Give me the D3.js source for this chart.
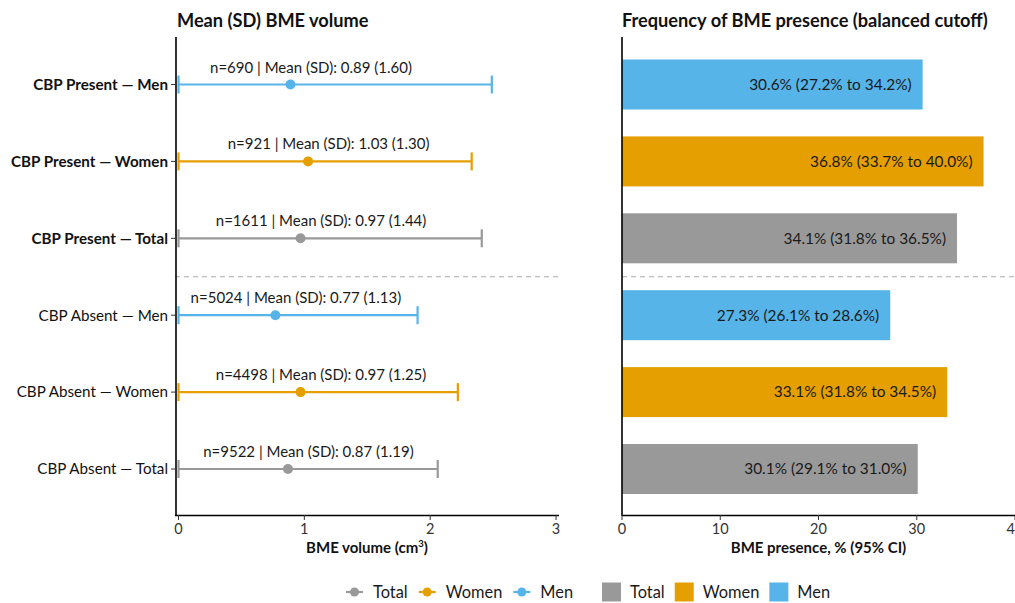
<!DOCTYPE html>
<html>
<head>
<meta charset="utf-8">
<script src="https://cdn.jsdelivr.net/npm/d3@7"></script>
<style>
  html, body { margin: 0; padding: 0; background: #fff; }
  svg { display: block; font-family: Lato, "Open Sans", sans-serif; }
</style>
</head>
<body>
<svg id="chart" width="1015" height="603"></svg>
<script>
// Row labels, top to bottom
const rowLabels = [
  "CBP Present — Men", "CBP Present — Women", "CBP Present — Total",
  "CBP Absent — Men", "CBP Absent — Women", "CBP Absent — Total"
];
const rowGroups = ["Men", "Women", "Total", "Men", "Women", "Total"];
const rowBold = [true, true, true, false, false, false];

// BME volume (cm3)
const sampleN = [690, 921, 1611, 5024, 4498, 9522];
const meanVolume = [0.89, 1.03, 0.97, 0.77, 0.97, 0.87];
const sdVolume = [1.60, 1.30, 1.44, 1.13, 1.25, 1.19];

// BME presence, % with 95% CI
const presencePct = [30.6, 36.8, 34.1, 27.3, 33.1, 30.1];
const presenceLow = [27.2, 33.7, 31.8, 26.1, 31.8, 29.1];
const presenceHigh = [34.2, 40.0, 36.5, 28.6, 34.5, 31.0];

const volumeTicks = [0, 1, 2, 3];
const presenceTicks = [0, 10, 20, 30, 40];

const groupColor = { Total: "#999999", Women: "#E69F00", Men: "#56B4E9" };
const legendGroups = ["Total", "Women", "Men"];

(function draw() {
  const svg = d3.select("#chart");
  const fmt2 = d3.format(".2f");
  const fmt1 = d3.format(".1f");

  const plotTop = 37, plotBottom = 515;
  const y = d3.scalePoint().domain(d3.range(rowLabels.length)).range([84.5, 469]);
  const yc = i => y(i);
  const sepY = (yc(2) + yc(3)) / 2;

  // ---------- Left panel: mean (SD) ----------
  const xL = d3.scaleLinear().domain([0, 3]).range([178.5, 556]);
  const leftX0 = 175, leftX1 = 559;

  svg.append("text").attr("x", 177).attr("y", 27)
    .attr("font-size", 18.2).attr("font-weight", 700).attr("fill", "#111")
    .text("Mean (SD) BME volume");

  svg.append("line").attr("x1", leftX0).attr("x2", leftX1)
    .attr("y1", sepY).attr("y2", sepY)
    .attr("stroke", "#aaaaaa").attr("stroke-width", 1.2).attr("stroke-dasharray", "5,4");

  const rowsL = svg.append("g").selectAll("g").data(d3.range(rowLabels.length)).join("g");
  rowsL.each(function(i) {
    const g = d3.select(this);
    const c = groupColor[rowGroups[i]];
    const lo = Math.max(0, meanVolume[i] - sdVolume[i]);
    const hi = meanVolume[i] + sdVolume[i];
    const cy = yc(i);
    g.append("line").attr("x1", xL(lo)).attr("x2", xL(hi)).attr("y1", cy).attr("y2", cy)
      .attr("stroke", c).attr("stroke-width", 2.2);
    [lo, hi].forEach(v => g.append("line").attr("x1", xL(v)).attr("x2", xL(v))
      .attr("y1", cy - 9).attr("y2", cy + 9).attr("stroke", c).attr("stroke-width", 2.2));
    g.append("circle").attr("cx", xL(meanVolume[i])).attr("cy", cy).attr("r", 5).attr("fill", c);
    g.append("text").attr("x", xL(meanVolume[i]) + 20.5).attr("y", cy - 12)
      .attr("text-anchor", "middle").attr("font-size", 15).attr("fill", "#1a1a1a")
      .text(`n=${sampleN[i]} | Mean (SD): ${fmt2(meanVolume[i])} (${fmt2(sdVolume[i])})`);
  });

  // y axis with row labels
  const yAxisL = svg.append("g");
  yAxisL.append("line").attr("x1", 176).attr("x2", 176).attr("y1", plotTop).attr("y2", plotBottom + 1)
    .attr("stroke", "#000").attr("stroke-width", 1.6);
  d3.range(rowLabels.length).forEach(i => {
    yAxisL.append("line").attr("x1", 171).attr("x2", 176).attr("y1", yc(i)).attr("y2", yc(i))
      .attr("stroke", "#333").attr("stroke-width", 1);
    yAxisL.append("text").attr("x", 168).attr("y", yc(i)).attr("dy", "0.35em")
      .attr("text-anchor", "end").attr("font-size", 15.2)
      .attr("font-weight", rowBold[i] ? 700 : 400).attr("fill", "#111")
      .text(rowLabels[i]);
  });

  // x axis
  const xAxisL = svg.append("g");
  xAxisL.append("line").attr("x1", leftX0).attr("x2", leftX1).attr("y1", plotBottom + 0.5).attr("y2", plotBottom + 0.5)
    .attr("stroke", "#000").attr("stroke-width", 1.6);
  volumeTicks.forEach(t => {
    xAxisL.append("line").attr("x1", xL(t)).attr("x2", xL(t)).attr("y1", plotBottom).attr("y2", plotBottom + 5)
      .attr("stroke", "#333");
    xAxisL.append("text").attr("x", xL(t)).attr("y", plotBottom + 19).attr("text-anchor", "middle")
      .attr("font-size", 14.5).attr("fill", "#333").text(t);
  });
  const xtL = svg.append("text").attr("x", (leftX0 + leftX1) / 2).attr("y", 553)
    .attr("text-anchor", "middle").attr("font-size", 15).attr("font-weight", 700).attr("fill", "#111");
  xtL.append("tspan").text("BME volume (cm");
  xtL.append("tspan").attr("font-size", 9.5).attr("dy", -6).text("3");
  xtL.append("tspan").attr("dy", 6).text(")");

  // ---------- Right panel: presence ----------
  const xR = d3.scaleLinear().domain([0, 40]).range([622, 1015]);
  const rightX0 = 622, rightX1 = 1015;

  svg.append("text").attr("x", 622).attr("y", 27)
    .attr("font-size", 18.2).attr("font-weight", 700).attr("fill", "#111")
    .text("Frequency of BME presence (balanced cutoff)");

  svg.append("line").attr("x1", rightX0).attr("x2", rightX1)
    .attr("y1", sepY).attr("y2", sepY)
    .attr("stroke", "#aaaaaa").attr("stroke-width", 1.2).attr("stroke-dasharray", "5,4");

  const barH = 50;
  const rowsR = svg.append("g").selectAll("g").data(d3.range(rowLabels.length)).join("g");
  rowsR.append("rect")
    .attr("x", xR(0)).attr("y", i => yc(i) - barH / 2)
    .attr("width", i => xR(presencePct[i]) - xR(0)).attr("height", barH)
    .attr("fill", i => groupColor[rowGroups[i]]);
  rowsR.append("text")
    .attr("x", i => xR(presencePct[i]) - 11).attr("y", i => yc(i)).attr("dy", "0.35em")
    .attr("text-anchor", "end").attr("font-size", 15.4).attr("fill", "#1a1a1a")
    .text(i => `${fmt1(presencePct[i])}% (${fmt1(presenceLow[i])}% to ${fmt1(presenceHigh[i])}%)`);

  const axR = svg.append("g");
  axR.append("line").attr("x1", 622).attr("x2", 622).attr("y1", plotTop).attr("y2", plotBottom + 1)
    .attr("stroke", "#000").attr("stroke-width", 1.6);
  axR.append("line").attr("x1", rightX0).attr("x2", rightX1).attr("y1", plotBottom + 0.5).attr("y2", plotBottom + 0.5)
    .attr("stroke", "#000").attr("stroke-width", 1.6);
  presenceTicks.forEach(t => {
    axR.append("line").attr("x1", xR(t)).attr("x2", xR(t)).attr("y1", plotBottom).attr("y2", plotBottom + 5)
      .attr("stroke", "#333");
    axR.append("text").attr("x", xR(t)).attr("y", plotBottom + 19).attr("text-anchor", "middle")
      .attr("font-size", 14.5).attr("fill", "#333").text(t);
  });
  svg.append("text").attr("x", (rightX0 + rightX1) / 2).attr("y", 553)
    .attr("text-anchor", "middle").attr("font-size", 15).attr("font-weight", 700).attr("fill", "#111")
    .text("BME presence, % (95% CI)");

  // ---------- Legends ----------
  const legY = 592;
  const legPoint = svg.append("g").attr("transform", `translate(346,${legY})`);
  let lx = 0;
  legendGroups.forEach(k => {
    const g = legPoint.append("g").attr("transform", `translate(${lx},0)`);
    g.append("line").attr("x1", 0).attr("x2", 17).attr("stroke", groupColor[k]).attr("stroke-width", 2.2);
    g.append("circle").attr("cx", 8.5).attr("r", 4.5).attr("fill", groupColor[k]);
    const t = g.append("text").attr("x", 27).attr("dy", "0.35em").attr("font-size", 16.4).attr("fill", "#1a1a1a").text(k);
    lx += 27 + t.node().getComputedTextLength() + 11;
  });

  const legBar = svg.append("g").attr("transform", `translate(602,${legY})`);
  lx = 0;
  legendGroups.forEach(k => {
    const g = legBar.append("g").attr("transform", `translate(${lx},0)`);
    g.append("rect").attr("x", 0).attr("y", -9.5).attr("width", 19).attr("height", 19).attr("fill", groupColor[k]);
    const t = g.append("text").attr("x", 28).attr("dy", "0.35em").attr("font-size", 16.4).attr("fill", "#1a1a1a").text(k);
    lx += 28 + t.node().getComputedTextLength() + 10;
  });
})();
</script>
</body>
</html>
